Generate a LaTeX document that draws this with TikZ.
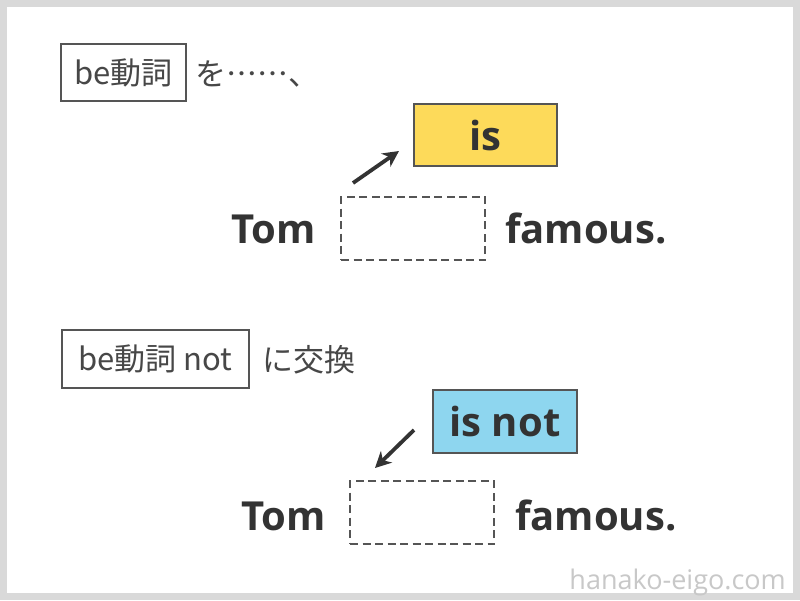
\documentclass[tikz,border=0pt]{standalone}
\usepackage{fontspec}
\usetikzlibrary{arrows.meta}
\newfontfamily\jpfont{Noto Sans CJK JP}[Script=CJK,Language=Japanese]
\newfontfamily\enfont{Open Sans}
\definecolor{frame}{HTML}{D9D9D9}
\definecolor{ink}{HTML}{333333}
\definecolor{edge}{HTML}{555555}
\definecolor{yel}{HTML}{FDDA5A}
\definecolor{blu}{HTML}{8ED6EF}
\definecolor{wm}{HTML}{C8C8C8}
\tikzset{
  jplabel/.style={font=\jpfont\fontsize{31}{36}\selectfont, text=ink!90, inner sep=0pt},
  jpbox/.style={jplabel, draw=edge, line width=1.5pt, inner sep=0pt},
  word/.style={font=\enfont\bfseries\fontsize{40}{48}\selectfont, text=ink, inner sep=0pt},
  answer/.style={word, draw=edge, line width=2.5pt},
  slot/.style={draw=edge, line width=2.5pt, dash pattern=on 8pt off 4.5pt, minimum width=144pt, minimum height=63pt, inner sep=0pt},
  pointer/.style={draw=ink, line width=3.8pt, -{Stealth[length=16pt,width=16pt,inset=5pt]}},
  watermark/.style={font=\enfont\fontsize{27}{32}\selectfont, text=wm, inner sep=0pt}
}
\begin{document}
\begin{tikzpicture}[x=1pt,y=-1pt]
\useasboundingbox (0,0) rectangle (800,600);
\fill[frame] (0,0) rectangle (800,600);
\fill[white] (7,7) rectangle (793,593);

% top half
\node[jpbox, minimum width=125pt, minimum height=57pt] (b1) at (123.5,72.5) {be動詞};
\node[jplabel, anchor=base west] (t1) at (195,85) {を……、};
\node[answer, fill=yel, minimum width=143pt, minimum height=62pt] (is) at (485.5,135) {is};
\node[word, anchor=base east] (tom1) at (316,243) {Tom};
\node[slot] (s1) at (413,228.5) {};
\node[word, anchor=base west] (fam1) at (505,243) {famous.};
\coordinate (a1s) at (353,183);
\coordinate (a1e) at (399,151);
\draw[pointer] (a1s) -- (a1e);

% bottom half
\node[jpbox, minimum width=187pt, minimum height=58pt] (b2) at (155.5,359) {be動詞 not};
\node[jplabel, anchor=base west] (t2) at (262,371) {に交換};
\node[answer, fill=blu, minimum width=144pt, minimum height=63pt] (isnot) at (505,421.5) {is not};
\node[word, anchor=base east] (tom2) at (326,530) {Tom};
\node[slot] (s2) at (422,512.5) {};
\node[word, anchor=base west] (fam2) at (515,530) {famous.};
\coordinate (a2s) at (414,430);
\coordinate (a2e) at (375,468);
\draw[pointer] (a2s) -- (a2e);

\node[watermark, anchor=base east] (wmk) at (786,589) {hanako-eigo.com};
\end{tikzpicture}
\end{document}
